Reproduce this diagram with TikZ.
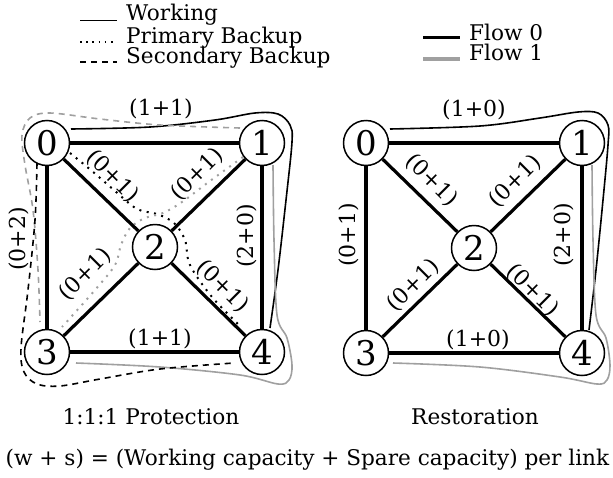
\documentclass[tikz,border=0pt]{standalone}
\usepackage{fontspec}
\setmainfont{DejaVu Serif}
\definecolor{fgray}{RGB}{160,160,160}
\begin{document}
\begin{tikzpicture}[x=1pt,y=-1pt,
  vtx/.style={circle,draw,line width=1.5pt,minimum size=45pt,inner sep=0pt,fill=white,font=\fontsize{34}{34}\selectfont},
  edge/.style={line width=3.2pt},
  lbl/.style={inner sep=0pt,font=\fontsize{22}{22}\selectfont},
  txt/.style={inner sep=0pt,font=\fontsize{21.6}{21.6}\selectfont},
  work/.style={line width=1.6pt},
  prim/.style={line width=2pt,dash pattern=on 2pt off 5.5pt},
  secd/.style={line width=1.6pt,dash pattern=on 6pt off 5pt},
  flowzero/.style={line width=3.5pt},
  flowone/.style={line width=4pt,fgray},
  sm/.style={smooth,tension=0.55}
]
\useasboundingbox (0,0) rectangle (613,477);

% ---------- legend ----------
\coordinate (lwa) at (80,20.5);  \coordinate (lwb) at (117,20.5);
\coordinate (lpa) at (80,42);    \coordinate (lpb) at (117,42);
\coordinate (lsa) at (80,62);    \coordinate (lsb) at (117,62);
\draw[work] (lwa) -- (lwb);
\draw[prim,line width=1.6pt,dash pattern=on 1.6pt off 4.6pt] (lpa) -- (lpb);
\draw[secd] (lsa) -- (lsb);
\node[txt,anchor=base west] (tw) at (126,20.7) {Working};
\node[txt,anchor=base west] (tp) at (126,43) {Primary Backup};
\node[txt,anchor=base west] (ts) at (126,63.3) {Secondary Backup};

\coordinate (f0a) at (423,37.5); \coordinate (f0b) at (460,37.5);
\coordinate (f1a) at (423,59);   \coordinate (f1b) at (460,59);
\draw[flowzero] (f0a) -- (f0b);
\draw[flowone] (f1a) -- (f1b);
\node[txt,anchor=base west] (tf0) at (469,40) {Flow 0};
\node[txt,anchor=base west] (tf1) at (469,60.7) {Flow 1};

% ---------- left: flow paths ----------
\draw[work] plot[sm] coordinates {(71,129) (150,127) (215,120) (255,113) (278,114) (290,125) (292,142) (286,200) (278,270) (270,328)};
\draw[work,fgray] plot[sm] coordinates {(273,165) (274,240) (277,315) (287,338) (292,365) (289,380) (278,384) (240,375) (160,367) (76,363)};
\draw[secd,fgray] plot[sm] coordinates {(240,128) (160,125) (100,119) (50,113) (30,118) (22,135) (25,165) (33,210) (38,270) (40,322)};
\draw[secd] plot[sm] coordinates {(37,163) (35,220) (28,290) (21,348) (24,372) (37,384) (60,386) (100,379) (160,369) (234,363)};
\draw[prim] plot[sm] coordinates {(70,153) (92,171) (115,191) (137,209) (157,214) (174,223) (185,240) (190,265) (212,297) (241,327)};
\draw[prim,fgray] plot[sm] coordinates {(243,157) (210,181) (182,202) (163,213) (145,218) (130,228) (121,245) (115,265) (95,290) (62,327)};

% ---------- left: nodes and edges ----------
\node[vtx] (L0) at (47,143) {0};
\node[vtx] (L1) at (262,143) {1};
\node[vtx] (L2) at (155,247) {2};
\node[vtx] (L3) at (47,352) {3};
\node[vtx] (L4) at (262,352) {4};
\draw[edge] (L0) -- (L1);
\draw[edge] (L0) -- (L3);
\draw[edge] (L1) -- (L4);
\draw[edge] (L3) -- (L4);
\draw[edge] (L0) -- (L2);
\draw[edge] (L1) -- (L2);
\draw[edge] (L2) -- (L3);
\draw[edge] (L2) -- (L4);

\node[lbl] at (161,109) {(1+1)};
\node[lbl] at (160,339) {(1+1)};
\node[lbl,rotate=90] at (19,239) {(0+2)};
\node[lbl,rotate=90] at (247,236) {(2+0)};
\node[lbl,rotate=-45] at (113,176) {(0+1)};
\node[lbl,rotate=45] at (197,174) {(0+1)};
\node[lbl,rotate=45] at (85,274) {(0+1)};
\node[lbl,rotate=-45] at (223,286) {(0+1)};

% ---------- right: flow paths ----------
\draw[work] plot[sm] coordinates {(390,129) (480,126) (540,118) (578,112) (598,113) (608,125) (608,145) (603,200) (596,270) (589,330)};
\draw[work,fgray] plot[sm] coordinates {(592,165) (593,240) (596,315) (606,338) (610,365) (607,380) (597,384) (560,377) (480,367) (393,363)};

% ---------- right: nodes and edges ----------
\node[vtx] (R0) at (366,143) {0};
\node[vtx] (R1) at (582,143) {1};
\node[vtx] (R2) at (474,248) {2};
\node[vtx] (R3) at (366,353) {3};
\node[vtx] (R4) at (582,353) {4};
\draw[edge] (R0) -- (R1);
\draw[edge] (R0) -- (R3);
\draw[edge] (R1) -- (R4);
\draw[edge] (R3) -- (R4);
\draw[edge] (R0) -- (R2);
\draw[edge] (R1) -- (R2);
\draw[edge] (R2) -- (R3);
\draw[edge] (R2) -- (R4);

\node[lbl] at (474,110) {(1+0)};
\node[lbl] at (478,340) {(1+0)};
\node[lbl,rotate=90] at (349,235) {(0+1)};
\node[lbl,rotate=90] at (564,235) {(2+0)};
\node[lbl,rotate=-45] at (432,180) {(0+1)};
\node[lbl,rotate=45] at (515,181) {(0+1)};
\node[lbl,rotate=45] at (413,285) {(0+1)};
\node[lbl,rotate=-45] at (533,290) {(0+1)};

% ---------- captions ----------
\node[txt,anchor=base] (c1) at (151,424) {1:1:1 Protection};
\node[txt,anchor=base] (c2) at (475,424) {Restoration};
\node[txt,anchor=base] (c3) at (307.5,465) {(w + s) = (Working capacity + Spare capacity) per link};
\end{tikzpicture}
\end{document}
